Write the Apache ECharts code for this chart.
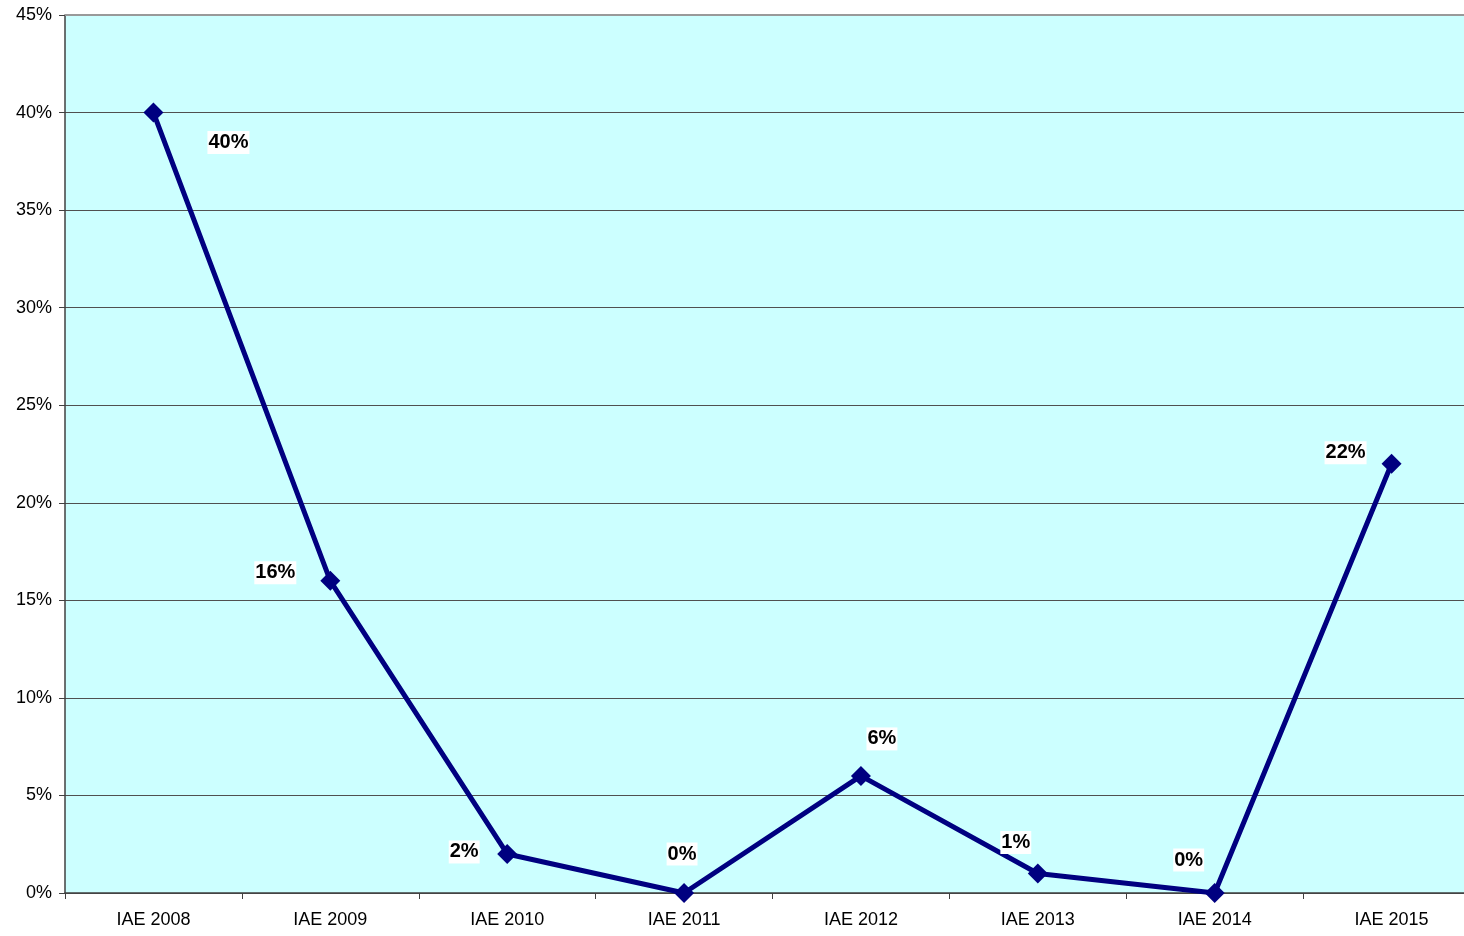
<!DOCTYPE html>
<html><head><meta charset="utf-8">
<script src="https://cdn.jsdelivr.net/npm/echarts@6/dist/echarts.min.js"></script>
<style>html,body{margin:0;padding:0;background:#fff}#c{width:1464px;height:936px}</style>
</head><body><div id="c"></div>
<script>
const categories = ['IAE 2008','IAE 2009','IAE 2010','IAE 2011','IAE 2012','IAE 2013','IAE 2014','IAE 2015'];
const values = [40, 16, 2, 0, 6, 1, 0, 22];
const yTicks = [0, 5, 10, 15, 20, 25, 30, 35, 40, 45];
const labelOffsets = [[75,30],[-55,-8],[-43,-2],[-2,-39],[21,-37],[-22,-31],[-26,-33],[-46,-11]];

const chart = echarts.init(document.getElementById('c'), null, {renderer:'canvas'});
chart.setOption({
  animation:false,
  backgroundColor:'#fff',
  grid:{left:65, width:1415, top:15, bottom:43, outerBoundsMode:'none', containLabel:false,
        show:true, backgroundColor:'#CCFFFF', borderWidth:0},
  xAxis:{
    type:'category', data:categories, boundaryGap:true,
    axisLine:{lineStyle:{color:'#404040', width:1.5}},
    axisTick:{show:true, alignWithLabel:false, length:6, lineStyle:{color:'#404040'}},
    axisLabel:{color:'#000', fontFamily:'Liberation Sans, Arial', fontSize:18, margin:18}
  },
  yAxis:{
    type:'value', min:yTicks[0], max:yTicks[yTicks.length-1], interval:5,
    axisLine:{show:true, lineStyle:{color:'#404040', width:1.5}},
    axisTick:{show:true, length:6, lineStyle:{color:'#404040'}},
    axisLabel:{color:'#000', fontFamily:'Liberation Sans, Arial', fontSize:18, margin:13, formatter:v=>v+'%'},
    splitLine:{show:true, lineStyle:{color:'#505050', width:1}}
  },
  series:[{
    type:'line', data:values.map((v,i)=>({value:v, label:{offset:labelOffsets[i]}})),
    symbol:'diamond', symbolSize:20,
    lineStyle:{color:'#000080', width:5},
    itemStyle:{color:'#000080'},
    label:{show:true, position:'inside', formatter:p=>p.value+'%', color:'#000',
      fontFamily:'Liberation Sans, Arial', fontWeight:'bold', fontSize:20,
      backgroundColor:'#fff', padding:[2,1,1,1]},
    z:3
  },{
    type:'line', data:[], markLine:{silent:true, symbol:'none', label:{show:false},
      lineStyle:{color:'#999', width:2, type:'solid'}, data:[{yAxis:45}]}
  }]
});
</script></body></html>
